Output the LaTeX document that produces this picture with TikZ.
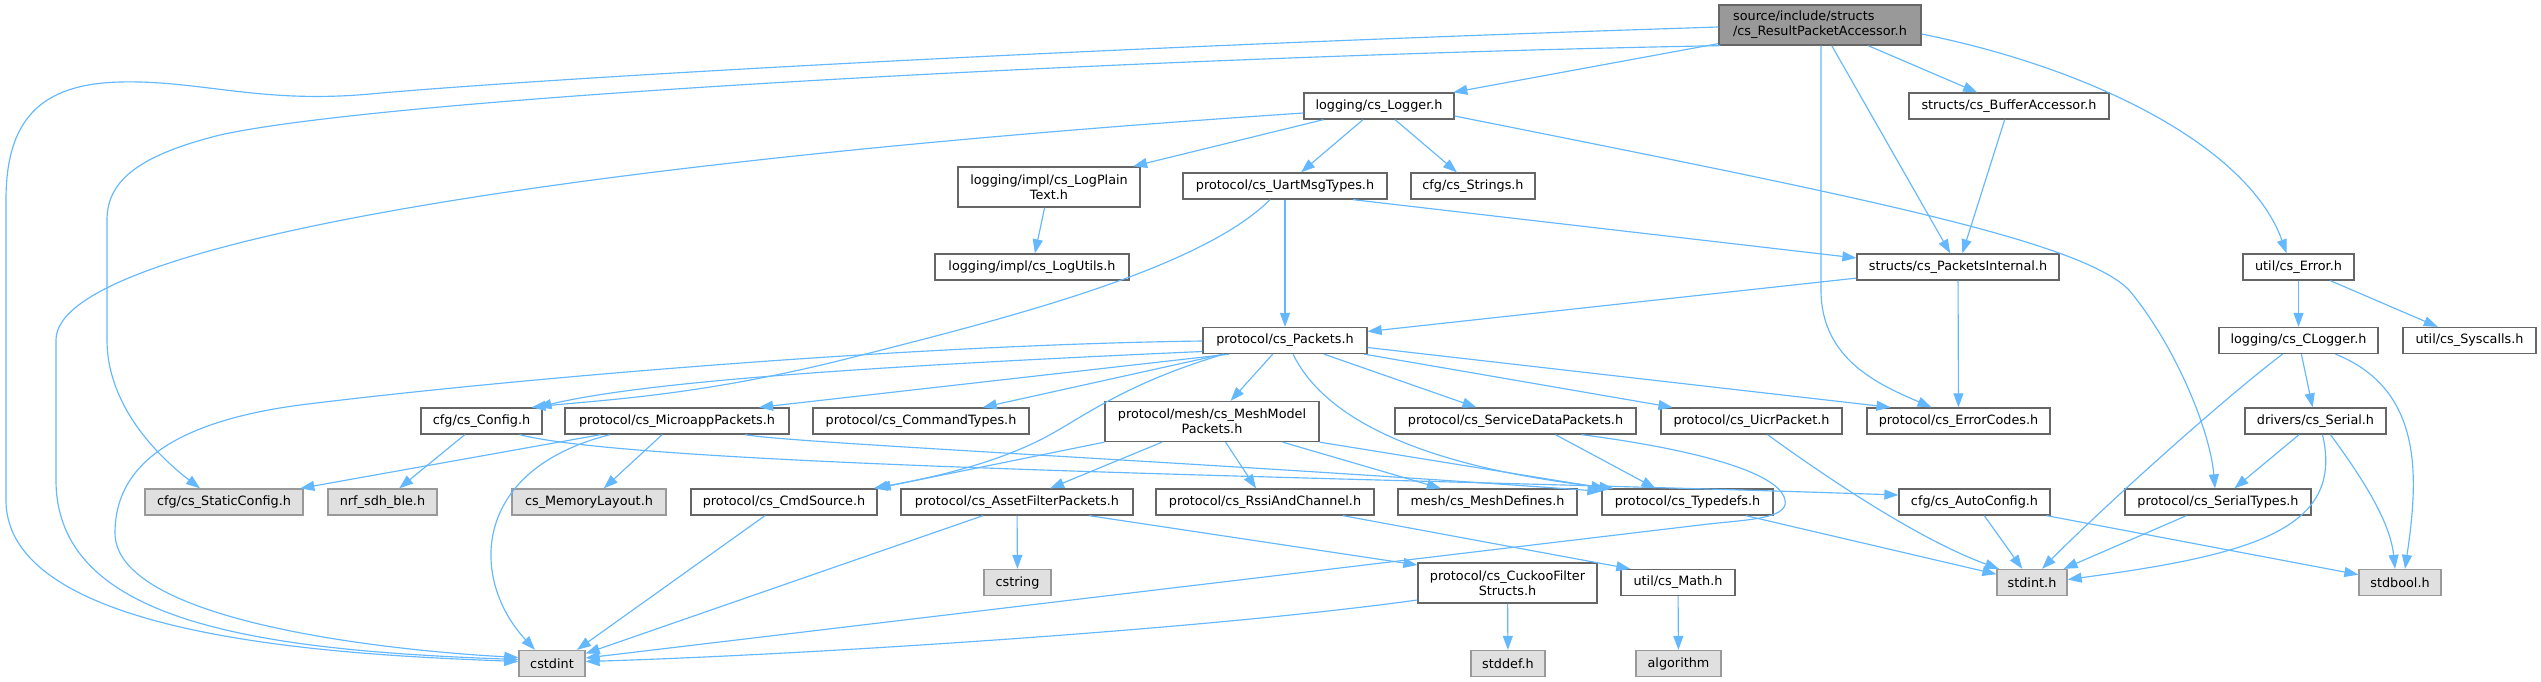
\documentclass[tikz,border=0pt]{standalone}
\usepackage{fontspec}
\newfontfamily\dx{DejaVu Sans}
\newcommand\dxf{\dx\fontsize{12.8pt}{14.8pt}\selectfont}
\usetikzlibrary{arrows.meta}
\definecolor{edgec}{HTML}{63B8FF}
\definecolor{bordc}{HTML}{666666}
\definecolor{graybd}{HTML}{999999}
\definecolor{grayfill}{HTML}{E0E0E0}
\definecolor{mainfill}{HTML}{999999}
\tikzset{
  nd/.style={draw=bordc, fill=white, line width=1.3pt, inner sep=0pt, minimum height=26pt, font=\dxf, text=black},
  nm/.style={nd, fill=mainfill},
  ng/.style={nd, draw=graybd, fill=grayfill},
  edg/.style={draw=edgec, line width=1.15pt, -{Triangle[length=14pt,width=10pt]}},
}
\begin{document}
\begin{tikzpicture}[x=1pt,y=-1pt]
\fill[white] (0,0) rectangle (2541,681);
\useasboundingbox (0,0) rectangle (2541,681);

% nodes
\node[nm, minimum width=202pt, minimum height=40pt, align=left] (main) at (1820,25) {source/include/structs\\/cs\_ResultPacketAccessor.h};
\node[nd, minimum width=150pt] (logger) at (1379,106) {logging/cs\_Logger.h};
\node[nd, minimum width=200pt] (buffacc) at (2009,106) {structs/cs\_BufferAccessor.h};
\node[nd, minimum width=182pt, minimum height=40pt, align=center] (logplain) at (1049,187) {logging/impl/cs\_LogPlain\\Text.h};
\node[nd, minimum width=204pt] (uart) at (1285,186) {protocol/cs\_UartMsgTypes.h};
\node[nd, minimum width=124pt] (strings) at (1473,186) {cfg/cs\_Strings.h};
\node[nd, minimum width=194pt] (logutils) at (1032,267) {logging/impl/cs\_LogUtils.h};
\node[nd, minimum width=202pt] (pint) at (1958,267) {structs/cs\_PacketsInternal.h};
\node[nd, minimum width=111pt] (error) at (2298.5,267) {util/cs\_Error.h};
\node[nd, minimum width=164pt] (packets) at (1285,340.5) {protocol/cs\_Packets.h};
\node[nd, minimum width=159pt] (clogger) at (2298.5,340.5) {logging/cs\_CLogger.h};
\node[nd, minimum width=133pt] (syscalls) at (2469.5,340.5) {util/cs\_Syscalls.h};
\node[nd, minimum width=121pt] (config) at (481.5,421) {cfg/cs\_Config.h};
\node[nd, minimum width=224pt] (micro) at (677,421) {protocol/cs\_MicroappPackets.h};
\node[nd, minimum width=216pt] (cmdtypes) at (921,421) {protocol/cs\_CommandTypes.h};
\node[nd, minimum width=214pt, minimum height=40pt, align=center] (meshmodel) at (1212,421.5) {protocol/mesh/cs\_MeshModel\\Packets.h};
\node[nd, minimum width=241pt] (servicedata) at (1515.5,421) {protocol/cs\_ServiceDataPackets.h};
\node[nd, minimum width=181pt] (uicr) at (1751.5,421) {protocol/cs\_UicrPacket.h};
\node[nd, minimum width=183pt] (errorcodes) at (1958.5,421) {protocol/cs\_ErrorCodes.h};
\node[nd, minimum width=141pt] (serial) at (2315.5,421) {drivers/cs\_Serial.h};
\node[ng, minimum width=158pt] (staticcfg) at (224,502) {cfg/cs\_StaticConfig.h};
\node[ng, minimum width=109pt] (nrf) at (382.5,502) {nrf\_sdh\_ble.h};
\node[ng, minimum width=154pt] (memlayout) at (589,502) {cs\_MemoryLayout.h};
\node[nd, minimum width=186pt] (cmdsource) at (784,502) {protocol/cs\_CmdSource.h};
\node[nd, minimum width=232pt] (assetfilter) at (1017,502) {protocol/cs\_AssetFilterPackets.h};
\node[nd, minimum width=218pt] (rssi) at (1265,502) {protocol/cs\_RssiAndChannel.h};
\node[nd, minimum width=179pt] (meshdefines) at (1487.5,502) {mesh/cs\_MeshDefines.h};
\node[nd, minimum width=171pt] (typedefs) at (1687.5,502) {protocol/cs\_Typedefs.h};
\node[nd, minimum width=151pt] (autoconfig) at (1974.5,502) {cfg/cs\_AutoConfig.h};
\node[nd, minimum width=186pt] (serialtypes) at (2218,502) {protocol/cs\_SerialTypes.h};
\node[ng, minimum width=67pt] (cstring) at (1017.5,582.5) {cstring};
\node[nd, minimum width=179pt, minimum height=40pt, align=center] (cuckoo) at (1507.5,583) {protocol/cs\_CuckooFilter\\Structs.h};
\node[nd, minimum width=114pt] (math) at (1678,582.5) {util/cs\_Math.h};
\node[ng, minimum width=70pt] (stdint) at (2032,582.5) {stdint.h};
\node[ng, minimum width=82pt] (stdbool) at (2400,582.5) {stdbool.h};
\node[ng, minimum width=66pt] (cstdint) at (552,663.5) {cstdint};
\node[ng, minimum width=74pt] (stddef) at (1508,663.5) {stddef.h};
\node[ng, minimum width=85pt] (algorithm) at (1678.5,663.5) {algorithm};

% edges from main
\draw[edg] (main) -- (logger);
\draw[edg] (main) -- (buffacc);
\draw[edg] (main) -- (pint);
\draw[edg] ([xshift=1pt]main.south) -- (1821,290) .. controls (1821,360) and (1880,385) .. ([xshift=-27pt]errorcodes.north);
\draw[edg] ([yshift=-9pt]main.east) .. controls (2100,70) and (2250,150) .. ([xshift=-12pt]error.north);
\draw[edg] ([yshift=-2pt]main.west) .. controls (1000,50) and (500,82) .. (370,94) .. controls (260,104) and (200,80) .. (120,82) .. controls (40,84) and (6,120) .. (6,200) -- (6,500) .. controls (6,640) and (350,655) .. ([yshift=2pt]cstdint.west);
\draw[edg] ([xshift=2pt]main.south west) .. controls (1200,55) and (400,95) .. (220,135) .. controls (140,155) and (107,180) .. (107,220) -- (107,340) .. controls (107,400) and (150,450) .. ([xshift=-24pt]staticcfg.north);

% logger
\draw[edg] ([yshift=-7pt]logger.west) .. controls (600,160) and (56,240) .. (56,340) -- (56,480) .. controls (56,620) and (250,650) .. ([yshift=4pt]cstdint.west);
\draw[edg] (logger) -- (logplain);
\draw[edg] (logger) -- (uart);
\draw[edg] (logger) -- (strings);
\draw[edg] ([yshift=-10pt]logger.east) .. controls (1850,195) and (2080,240) .. (2129,290) .. controls (2175,345) and (2210,430) .. ([xshift=-3pt]serialtypes.north);

\draw[edg] (buffacc) -- (pint);
\draw[edg] (logplain) -- (logutils);

% uart
\draw[edg] (uart) -- (packets);
\draw[edg] ([xshift=68pt]uart.south) -- ([yshift=9pt]pint.west);
\draw[edg] ([xshift=-15pt]uart.south) .. controls (1200,270) and (1000,320) .. (850,358) .. controls (700,396) and (600,400) .. ([xshift=50pt]config.north);

% packets internal
\draw[edg] (pint) -- (packets);
\draw[edg] (pint) -- (errorcodes);

% error / clogger / serial
\draw[edg] (error) -- (clogger);
\draw[edg] (error) -- (syscalls);
\draw[edg] (clogger) -- (serial);
\draw[edg] ([xshift=-16pt]clogger.south) .. controls (2218,403) and (2095,515) .. ([xshift=10pt]stdint.north);
\draw[edg] ([xshift=37pt]clogger.south) .. controls (2425,390) and (2418,480) .. ([xshift=5pt]stdbool.north);
\draw[edg] (serial) -- (serialtypes);
\draw[edg] ([xshift=7pt]serial.south) .. controls (2345,530) and (2250,555) .. ([yshift=3pt]stdint.east);
\draw[edg] ([xshift=15pt]serial.south) .. controls (2360,475) and (2390,520) .. ([xshift=-5pt]stdbool.north);
\draw[edg] (serialtypes) -- (stdint);
\draw[edg] (autoconfig) -- (stdint);
\draw[edg] (autoconfig) -- (stdbool);
\draw[edg] (typedefs) -- (stdint);
\draw[edg] ([xshift=16pt]uicr.south) .. controls (1830,480) and (1920,540) .. ([xshift=-33pt]stdint.north);

% packets
\draw[edg] ([yshift=-0.5pt]packets.west) .. controls (900,345) and (500,380) .. (300,405) .. controls (150,425) and (115,480) .. (115,533) .. controls (115,620) and (380,650) .. ([yshift=6pt]cstdint.west);
\draw[edg] ([yshift=-11pt]packets.west) .. controls (900,365) and (650,380) .. ([xshift=56pt]config.north);
\draw[edg] ([xshift=-56pt]packets.south) -- ([xshift=82pt]micro.north);
\draw[edg] (packets) -- (cmdtypes);
\draw[edg] ([xshift=-61pt]packets.south) .. controls (1120,385) and (1080,420) .. (1040,440) .. controls (990,465) and (930,478) .. ([xshift=-4pt]cmdsource.north east);
\draw[edg] (packets) -- (meshmodel);
\draw[edg] ([xshift=8pt]packets.south) .. controls (1330,430) and (1450,470) .. ([xshift=12pt]typedefs.north west);
\draw[edg] (packets) -- (servicedata);
\draw[edg] (packets) -- (uicr);
\draw[edg] ([yshift=-7pt]packets.east) -- ([xshift=-68pt]errorcodes.north);

% config
\draw[edg] (config) -- (nrf);
\draw[edg] ([xshift=38pt]config.south) .. controls (650,468) and (1400,478) .. ([yshift=7pt]autoconfig.west);

% micro
\draw[edg] (micro) -- (staticcfg);
\draw[edg] ([xshift=-67pt]micro.south) .. controls (470,470) and (470,580) .. ([xshift=-17pt]cstdint.north);
\draw[edg] (micro) -- (memlayout);
\draw[edg] ([xshift=68pt]micro.south) .. controls (790,443) and (1200,462) .. ([yshift=-3pt]typedefs.north west);

% mesh model
\draw[edg] (meshmodel.south west) -- ([xshift=-1pt]cmdsource.north east);
\draw[edg] (meshmodel) -- (assetfilter);
\draw[edg] (meshmodel) -- (rssi);
\draw[edg] (meshmodel) -- (meshdefines);
\draw[edg] (meshmodel.south east) -- ([xshift=4pt]typedefs.north west);

% service data
\draw[edg] ([xshift=40pt]servicedata.south) -- ([xshift=-32pt]typedefs.north);
\draw[edg] ([xshift=66pt]servicedata.south) .. controls (1700,450) and (1790,475) .. (1785,505) .. controls (1780,520) and (1740,520) .. (1700,525) -- ([yshift=5.5pt]cstdint.east);

% lower
\draw[edg] ([xshift=-19pt]cmdsource.south) -- ([xshift=25pt]cstdint.north);
\draw[edg] ([xshift=-34pt]assetfilter.south) -- ([yshift=10pt]cstdint.east);
\draw[edg] (assetfilter) -- (cstring);
\draw[edg] ([xshift=72pt]assetfilter.south) -- ([yshift=18pt]cuckoo.west);
\draw[edg] ([xshift=78pt]rssi.south) -- ([xshift=10pt]math.north west);
\draw[edg] (cuckoo) -- (stddef);
\draw[edg] ([yshift=-17pt]cuckoo.west) .. controls (1200,630) and (800,655) .. ([yshift=2pt]cstdint.east);
\draw[edg] (math) -- (algorithm);
\end{tikzpicture}
\end{document}
